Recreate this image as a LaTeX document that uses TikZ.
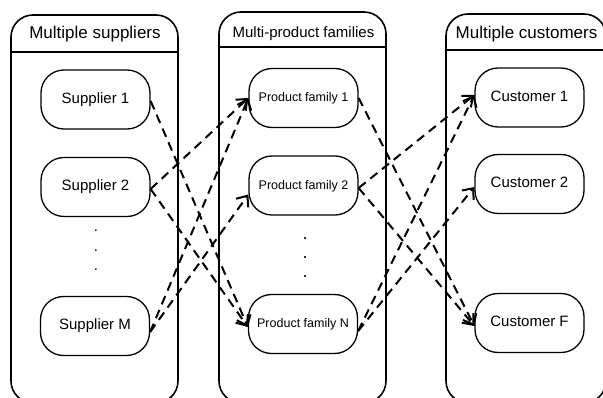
\documentclass[tikz,border=0pt]{standalone}
\usepackage{fontspec}
\setmainfont{Liberation Sans}
\usetikzlibrary{arrows.meta}
\begin{document}
\begin{tikzpicture}[x=1pt,y=-1pt,
  lane/.style={line width=1.6pt, rounded corners=22pt},
  lanehead/.style={line width=1.6pt},
  title/.style={anchor=base, inner sep=0pt},
  item/.style={draw, line width=1.3pt, rounded corners=23pt, minimum width=109pt,
    minimum height=59pt, inner sep=0pt, text height=0.72em, text depth=0pt},
  dotmark/.style={anchor=base, inner sep=0pt},
  link/.style={line width=2pt, dash pattern=on 9pt off 6pt,
    -{Straight Barb[length=9pt,width=15pt]}}]
\useasboundingbox (0,0) rectangle (603,398);

% swimlanes
\draw[lane] (11,15) rectangle (178,403);
\draw[lanehead] (11,52) -- (178,52);
\draw[lane] (219,12) rectangle (386,403);
\draw[lanehead] (219,47) -- (386,47);
\draw[lane] (446,14) rectangle (606,403);
\draw[lanehead] (446,50) -- (606,50);

\node[title, font=\fontsize{17}{20}\selectfont] (tS) at (95,39) {Multiple suppliers};
\node[title, font=\fontsize{15}{18}\selectfont] (tP) at (303.5,38) {Multi-product families};
\node[title, font=\fontsize{17}{20}\selectfont] (tC) at (526.5,39) {Multiple customers};

% nodes
\begin{scope}[every node/.append style={font=\fontsize{15}{18}\selectfont}]
\node[item] (S1) at (95.5,99.5) {Supplier 1};
\node[item] (S2) at (95.5,187) {Supplier 2};
\node[item] (SM) at (95,326) {Supplier M};
\node[item] (C1) at (529.5,97.5) {Customer 1};
\node[item] (C2) at (529.5,184) {Customer 2};
\node[item] (CF) at (529.5,323) {Customer F};
\end{scope}
\begin{scope}[every node/.append style={font=\fontsize{12.5}{15}\selectfont}]
\node[item] (P1) at (303.5,98) {Product family 1};
\node[item] (P2) at (303.5,185.5) {Product family 2};
\node[item] (PN) at (303,324) {Product family N};
\end{scope}

% dots
\begin{scope}[every node/.append style={dotmark, font=\fontsize{15}{18}\selectfont}]
\node (sd1) at (96,232) {.};
\node (sd2) at (96,252) {.};
\node (sd3) at (96,271) {.};
\end{scope}
\begin{scope}[every node/.append style={dotmark, font=\fontsize{18}{20}\selectfont}]
\node (pd1) at (305,239.5) {.};
\node (pd2) at (305,258.5) {.};
\node (pd3) at (305,277.5) {.};
\end{scope}

% links suppliers -> product families
\draw[link] ([yshift=-1.5pt]S1.east) -- ([yshift=-3pt]PN.west);
\draw[link] ([yshift=-2pt]S2.east) -- ([yshift=-3pt]PN.west);
\draw[link] ([yshift=-2pt]S2.east) -- (P1.west);
\draw[link] ([yshift=-6pt]SM.east) -- (P1.west);
\draw[link] ([yshift=-6pt]SM.east) -- ([yshift=-9pt]P2.west);

% links product families -> customers
\draw[link] (P1.east) -- ([yshift=-3pt]CF.west);
\draw[link] ([yshift=-2.5pt]P2.east) -- ([yshift=2.5pt]C1.west);
\draw[link] ([yshift=-2.5pt]P2.east) -- ([yshift=-3pt]CF.west);
\draw[link] ([yshift=-7pt]PN.east) -- ([yshift=2.5pt]C1.west);
\draw[link] ([yshift=-7pt]PN.east) -- ([yshift=-3pt]C2.west);
\end{tikzpicture}
\end{document}
